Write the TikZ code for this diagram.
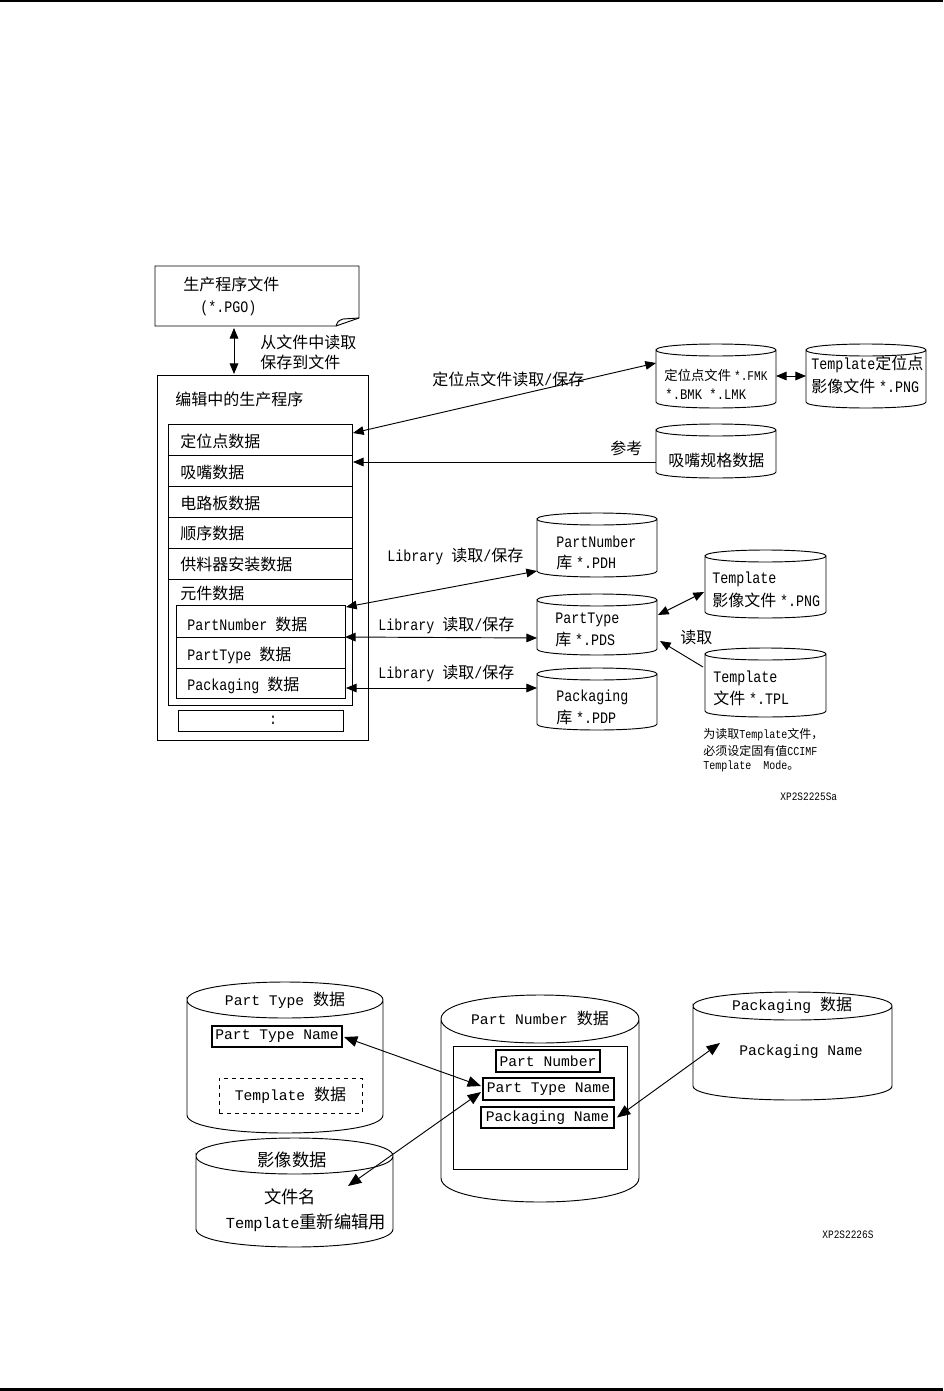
\documentclass[tikz,border=0pt]{standalone}
\usepackage{fontspec}
\setmainfont{Noto Sans CJK SC}
\newfontfamily\monof{Liberation Mono}[FakeStretch=0.833]
\newfontfamily\monob{Liberation Mono}
\newcommand\m[1]{{\monof #1}}
\newcommand\mb[1]{{\monob\fontsize{11}{13}\selectfont #1}}
\usetikzlibrary{arrows.meta,calc,fit}
\newcommand\bx[6][]{\path (#3,#4) coordinate (#2-nw) (#5,#6) coordinate (#2-se);
  \node[fit=(#2-nw)(#2-se), inner sep=0pt, outer sep=0pt, #1] (#2) {};}
\newcommand\cyl[6]{%
  \pgfmathsetmacro\cyk{4/3*#6}%
  \pgfmathsetmacro\cyt{#3+#6}%
  \pgfmathsetmacro\cyb{#5-#6}%
  \draw (#2,\cyt) .. controls (#2,\cyt-\cyk) and (#4,\cyt-\cyk) .. (#4,\cyt)
        .. controls (#4,\cyt+\cyk) and (#2,\cyt+\cyk) .. (#2,\cyt)
        -- (#2,\cyb) .. controls (#2,\cyb+\cyk) and (#4,\cyb+\cyk) .. (#4,\cyb) -- (#4,\cyt);
  \bx{#1}{#2}{#3}{#4}{#5}}
\begin{document}
\begin{tikzpicture}[x=0.75pt,y=-0.75pt,line width=0.7pt,
  t/.style={inner sep=0pt, anchor=west, font=\fontsize{12}{14}\selectfont},
  tc/.style={inner sep=0pt, anchor=center, font=\fontsize{12}{14}\selectfont},
  dar/.style={{Triangle[length=8pt,width=6.5pt]}-{Triangle[length=8pt,width=6.5pt]}},
  sar/.style={-{Triangle[length=8pt,width=6.5pt]}},
  dbar/.style={{Triangle[length=10pt,width=8pt]}-{Triangle[length=10pt,width=8pt]}},
  nbox/.style={draw, line width=1.1pt}]
\useasboundingbox (0,0) rectangle (943,1391);
\fill (0,0) rectangle (943,2.3);
\fill (0,1388.3) rectangle (943,1391);

% ---------- top diagram ----------
\draw (155,266) -- (359,266) -- (359,318) -- (336,326) -- (155,326) -- cycle;
\draw (336,326) .. controls (338,321) .. (343,319) -- (359,318);
\bx{doc}{155}{266}{359}{326}
\node[t] (tdoc1) at (183,284) {生产程序文件};
\node[t] (tdoc2) at (200,308) {\m{(*.PGO)}};

\bx[draw]{prog}{157}{375}{368}{740}
\draw[dar] ($(doc.south west)+(79,2)$) -- ($(prog.north west)+(77,-1)$);
\node[t] (trd1) at (260,342) {从文件中读取};
\node[t] (trd2) at (260,362) {保存到文件};
\node[t] (tprog) at (175,399) {编辑中的生产程序};

\bx[draw]{r1}{168}{424}{352}{455}
\bx[draw]{r2}{168}{455}{352}{486}
\bx[draw]{r3}{168}{486}{352}{517}
\bx[draw]{r4}{168}{517}{352}{548}
\bx[draw]{r5}{168}{548}{352}{579}
\bx[draw]{r6}{168}{579}{352}{705}
\bx[draw]{s1}{176}{605}{345}{637}
\bx[draw]{s2}{176}{637}{345}{668}
\bx[draw]{s3}{176}{668}{345}{698}
\bx[draw]{dots}{178}{710}{343}{731}
\node[t] (tr1) at (180,441) {定位点数据};
\node[t] (tr2) at (180,472) {吸嘴数据};
\node[t] (tr3) at (180,503) {电路板数据};
\node[t] (tr4) at (180,533) {顺序数据};
\node[t] (tr5) at (180,564) {供料器安装数据};
\node[t] (tr6) at (180,593) {元件数据};
\node[t] (ts1) at (187,624) {\m{PartNumber }数据};
\node[t] (ts2) at (187,655) {\m{PartType }数据};
\node[t] (ts3) at (187,685) {\m{Packaging }数据};
\node[tc] (tdots) at (273,720) {\m{:}};

\cyl{fmk}{656}{344}{776}{408}{6}
\cyl{tpng}{806}{344}{926}{408}{6}
\cyl{noz}{656}{424}{776}{478}{6}
\node[t,font=\fontsize{10}{12}\selectfont] (tf1) at (664,375) {定位点文件 \m{*.FMK}};
\node[t,font=\fontsize{11}{12}\selectfont] (tf2) at (665,394) {\m{*.BMK *.LMK}};
\node[t] (tp1) at (811,364) {\m{Template}定位点};
\node[t] (tp2) at (811,386) {影像文件 \m{*.PNG}};
\node[t] (tn1) at (668,460) {吸嘴规格数据};
\draw[dar] (fmk.east) -- (tpng.west);
\draw[dar] ($(fmk.west)+(0,-13)$) -- ($(r1.east)+(1,-6.5)$);
\node[t] (l1) at (432,379) {定位点文件读取\m{/}保存};
\draw[sar] ($(noz.west)+(0,11)$) -- ($(r2.east)+(1,-8.5)$);
\node[t] (l2) at (610,448) {参考};

\cyl{pnum}{537}{513}{657}{577}{6}
\cyl{ptype}{537}{594}{657}{655}{6}
\cyl{pack}{537}{668}{657}{730}{6}
\node[t] (tpn1) at (556,542) {\m{PartNumber}};
\node[t] (tpn2) at (556,562) {库 \m{*.PDH}};
\node[t] (tpt1) at (555,620) {\m{PartType}};
\node[t] (tpt2) at (555,639) {库 \m{*.PDS}};
\node[t] (tpk1) at (556,697) {\m{Packaging}};
\node[t] (tpk2) at (556,717) {库 \m{*.PDP}};
\draw[dar] ($(pnum.west)+(0,26)$) -- ($(s1.north east)+(1,2)$);
\draw[dar] ($(ptype.west)+(0,13.5)$) -- (s1.south east);
\draw[dar] ($(pack.west)+(0,-11)$) -- ($(s3.east)+(1,5)$);
\node[t] (l3) at (387,556) {\m{Library }读取\m{/}保存};
\node[t] (l4) at (378,625) {\m{Library }读取\m{/}保存};
\node[t] (l5) at (378,673) {\m{Library }读取\m{/}保存};

\cyl{timg}{705}{550}{826}{618}{6}
\cyl{ttpl}{705}{648}{826}{717}{6}
\node[t] (ti1) at (712,579) {\m{Template}};
\node[t] (ti2) at (712,600) {影像文件 \m{*.PNG}};
\node[t] (tt1) at (713,678) {\m{Template}};
\node[t] (tt2) at (713,698) {文件 \m{*.TPL}};
\draw[dar] ($(timg.west)+(-1,8)$) -- ($(ptype.east)+(1,-9.5)$);
\draw[sar] ($(ttpl.west)+(-2,-15.5)$) -- ($(ptype.east)+(3,16.5)$);
\node[t] (l6) at (680,637) {读取};
\node[t,font=\fontsize{9}{11}\selectfont] (nt1) at (703,735) {为读取\m{Template}文件，};
\node[t,font=\fontsize{9}{11}\selectfont] (nt2) at (703,751) {必须设定固有值\m{CCIMF}};
\node[t,font=\fontsize{9}{11}\selectfont] (nt3) at (703,766) {\m{Template~~Mode}。};
\node[t,font=\fontsize{8.5}{10}\selectfont] (xp1) at (780,797) {\m{XP2S2225Sa}};

% ---------- bottom diagram ----------
\cyl{ptd}{187}{982}{383}{1133}{18}
\node[tc] (tptd) at (285,1000) {\mb{Part Type }数据};
\bx[nbox]{ptn}{212}{1026}{342}{1047}
\node[tc] (tptn) at (ptn) {\mb{Part Type Name}};
\bx[draw,dashed]{tpd}{219}{1078}{362}{1113}
\node[tc] (ttpd) at (tpd) {\mb{Template }数据};

\cyl{img}{196}{1138}{393}{1247}{18}
\node[tc,font=\fontsize{13}{15}\selectfont] (timgt) at (292,1160) {影像数据};
\node[tc,font=\fontsize{13}{15}\selectfont] (timg2) at (290,1197) {文件名};
\node[tc,font=\fontsize{13}{15}\selectfont] (timg3) at (306,1223) {{\monob\fontsize{11.5}{13}\selectfont Template}重新编辑用};

\cyl{pnd}{441}{995}{639}{1202}{24}
\node[tc] (tpnd) at (540,1018) {\mb{Part Number }数据};
\bx[draw]{inr}{453}{1046}{627}{1169}
\bx[nbox]{pn}{496}{1050}{600}{1072}
\node[tc] (tpn) at (pn) {\mb{Part Number}};
\bx[nbox]{ptn2}{483}{1078}{614}{1100}
\node[tc] (tptn2) at (ptn2) {\mb{Part Type Name}};
\bx[nbox]{pkn}{481}{1107}{614}{1128}
\node[tc] (tpkn) at (pkn) {\mb{Packaging Name}};

\cyl{pkd}{693}{992}{892}{1100}{14}
\node[tc] (tpkd) at (792,1005) {\mb{Packaging }数据};
\node[tc] (tpkd2) at (801,1052) {\mb{Packaging Name}};

\draw[dbar] ($(ptn.east)+(2,0.5)$) -- ($(ptn2.west)+(-2,-3)$);
\draw[dbar] ($(img.north east)+(-45,48)$) -- ($(ptn2.west)+(-2,3)$);
\draw[dbar] ($(pkn.east)+(3,0)$) -- ($(pkd.north west)+(27,51)$);
\node[t,font=\fontsize{8.5}{10}\selectfont] (xp2) at (822,1235) {\m{XP2S2226S}};
\end{tikzpicture}
\end{document}
